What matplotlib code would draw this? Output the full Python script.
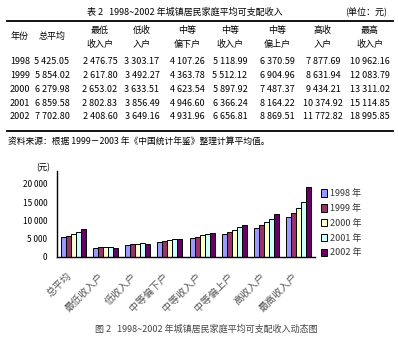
import matplotlib
matplotlib.use("Agg")
import matplotlib.pyplot as plt
from matplotlib.lines import Line2D
from matplotlib.patches import Patch
import numpy as np

plt.rcParams['font.family'] = ['Noto Sans CJK SC', 'DejaVu Sans']

W, H = 398, 342

years = ["1998", "1999", "2000", "2001", "2002"]
groups = ["总平均", "最低收入户", "低收入户", "中等偏下户", "中等收入户", "中等偏上户", "高收入户", "最高收入户"]
header_top = ["年份", "总平均", "最低", "低收", "中等", "中等", "中等", "高收", "最高"]
header_bot = ["", "", "收入户", "入户", "偏下户", "收入户", "偏上户", "入户", "收入户"]

income_1998 = [5425.05, 2476.75, 3303.17, 4107.26, 5118.99, 6370.59, 7877.69, 10962.16]
income_1999 = [5854.02, 2617.80, 3492.27, 4363.78, 5512.12, 6904.96, 8631.94, 12083.79]
income_2000 = [6279.98, 2653.02, 3633.51, 4623.54, 5897.92, 7487.37, 9434.21, 13311.02]
income_2001 = [6859.58, 2802.83, 3856.49, 4946.60, 6366.24, 8164.22, 10374.92, 15114.85]
income_2002 = [7702.80, 2408.60, 3649.16, 4931.96, 6656.81, 8869.51, 11772.82, 18995.85]
series = [income_1998, income_1999, income_2000, income_2001, income_2002]

yticks = [0, 5000, 10000, 15000, 20000]
colors = ["#9999FF", "#993366", "#FFFFCC", "#CCFFFF", "#660066"]

fig = plt.figure(figsize=(W / 100, H / 100), dpi=100)
fig.patch.set_facecolor("white")


def fx(x):
    return x / W


def fy(y):
    return 1 - y / H


def fmt(v):
    s = f"{v:,.2f}"
    return s.replace(",", " ")


# ---- table ----
fig.text(fx(185), fy(12), "表 2   1998~2002 年城镇居民家庭平均可支配收入",
         ha="center", va="center", fontsize=6.5)
fig.text(fx(366), fy(12), "(单位：元)", ha="center", va="center", fontsize=6.5)

for yy, lw in [(21, 1.3), (131, 1.3)]:
    fig.add_artist(Line2D([fx(7), fx(393)], [fy(yy), fy(yy)], color="black",
                          lw=lw, transform=fig.transFigure))

col_x = [20, 52, 100, 142, 187, 230, 277, 323, 370]
for cx, t1, t2 in zip(col_x, header_top, header_bot):
    if t2:
        fig.text(fx(cx), fy(30), t1, ha="center", va="center", fontsize=6.5)
        fig.text(fx(cx), fy(44), t2, ha="center", va="center", fontsize=6.5)
    else:
        fig.text(fx(cx), fy(36), t1, ha="center", va="center", fontsize=6.5)

row_y = [61, 75, 89, 103, 117]
for ry, yr, vals in zip(row_y, years, series):
    fig.text(fx(col_x[0]), fy(ry), yr, ha="center", va="center", fontsize=6.5)
    for cx, v in zip(col_x[1:], vals):
        fig.text(fx(cx), fy(ry), fmt(v), ha="center", va="center", fontsize=6.5)

fig.text(fx(8), fy(141), "资料来源：根据 1999－2003 年《中国统计年鉴》整理计算平均值。",
         ha="left", va="center", fontsize=6.3)

# ---- bar chart ----
ax = fig.add_axes([fx(57), fy(257), fx(315) - fx(57), (257 - 171) / H])
x = np.arange(len(groups))
bw = 0.155
for i, (vals, c, yr) in enumerate(zip(series, colors, years)):
    ax.bar(x + (i - 2) * bw, vals, width=bw, color=c, edgecolor="black",
           linewidth=0.7, label=yr + " 年")

ax.set_xlim(-0.5, len(groups) - 0.5)
ax.set_ylim(0, 23500)
ax.set_yticks(yticks)
ax.set_yticklabels([f"{v:,}".replace(",", " ") for v in yticks], fontsize=6)
ax.tick_params(axis="y", length=0, pad=7)
ax.set_xticks(x - 0.2)
ax.set_xticklabels(groups, rotation=45, ha="right", rotation_mode="anchor",
                   fontsize=7.2, color="#555555")
ax.tick_params(axis="x", length=0, pad=10)
for s in ["top", "right"]:
    ax.spines[s].set_visible(False)
ax.spines["left"].set_linewidth(1.0)
ax.spines["bottom"].set_linewidth(1.0)

fig.text(fx(43), fy(168), "(元)", ha="center", va="center", fontsize=6)

handles = [Patch(facecolor=c, edgecolor="black", linewidth=0.7) for c in colors]
fig.legend(handles, [y + " 年" for y in years], loc="upper left",
           bbox_to_anchor=(fx(321), fy(189)), frameon=False, fontsize=6.5,
           handlelength=0.7, handleheight=0.9, handletextpad=0.3,
           labelspacing=0.65, borderpad=0, borderaxespad=0, labelcolor="#333333")

fig.text(fx(206), fy(329), "图 2   1998~2002 年城镇居民家庭平均可支配收入动态图",
         ha="center", va="center", fontsize=6.5, color="#444444")

fig.savefig("out.png", dpi=100, facecolor="white")
